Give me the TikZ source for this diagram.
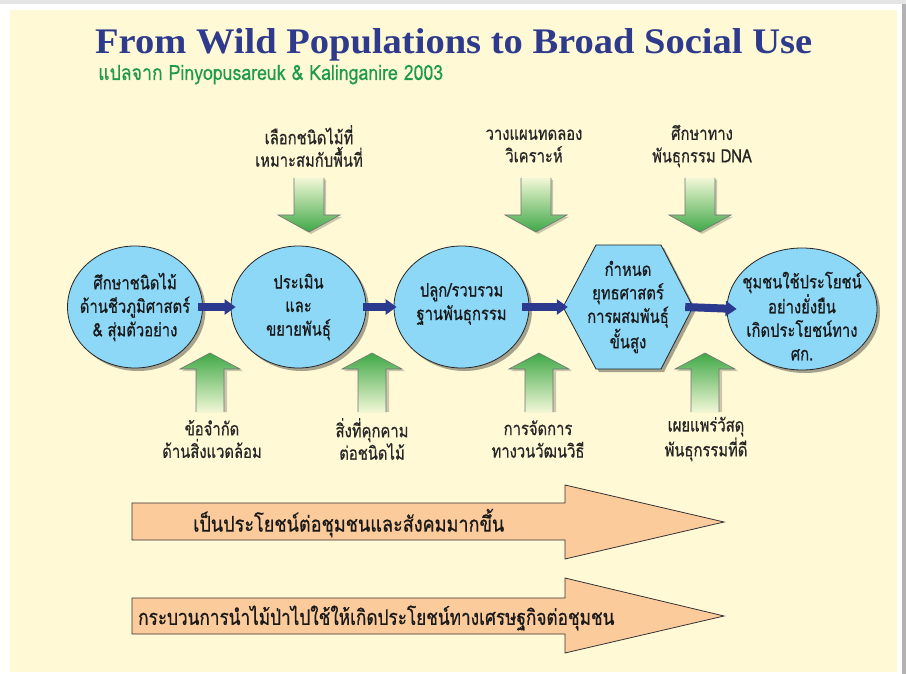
\documentclass[tikz,border=0pt]{standalone}
\usepackage{graphicx}
\usepackage{fontspec}
\setmainfont{Liberation Serif}
\newfontfamily\thai[Script=Thai,FakeStretch=0.8,FakeBold=0.6]{Loma}
\newfontfamily\thaisub[Script=Thai,FakeStretch=0.85,FakeBold=0.3]{Loma}
\usetikzlibrary{shapes.geometric,arrows.meta,shadows}
\definecolor{cream}{HTML}{FFF9D6}
\definecolor{titleblue}{HTML}{2E3A8C}
\definecolor{subgreen}{HTML}{1E9B48}
\definecolor{nodeblue}{HTML}{8DD7F7}
\definecolor{arrowblue}{HTML}{2B3A8F}
\definecolor{salmon}{HTML}{FCCB9C}
\definecolor{gdark}{HTML}{3FA847}
\definecolor{glight}{HTML}{F1F7D6}
\newcommand\ndfont{\thai\fontsize{18.5}{23.5}\selectfont}
\newcommand\lbfont{\thai\fontsize{18.5}{22.5}\selectfont}
\newcommand\bdfont{\thai\fontsize{21.5}{24}\selectfont}
\newcommand\gdown[1]{%
  \fill[black,opacity=0.2] ({#1-13},180) -- ({#1-13},217) -- ({#1-28},217) -- ({#1+2},234) -- ({#1+33},217) -- ({#1+17},217) -- ({#1+17},180) -- cycle;
  \shade[top color=glight, bottom color=gdark] ({#1-15},178) -- ({#1+15},178) -- ({#1+15},215) -- ({#1+31},215) -- (#1,232) -- ({#1-31},215) -- ({#1-15},215) -- cycle;
  \draw[gline] ({#1-15},178) -- ({#1-15},215) -- ({#1-31},215) -- (#1,232) -- ({#1+31},215) -- ({#1+15},215) -- ({#1+15},178);
}
\newcommand\gup[1]{%
  \fill[black,opacity=0.2] ({#1+2},355) -- ({#1+33},371) -- ({#1+17},371) -- ({#1+17},412) -- ({#1-13},412) -- ({#1-13},371) -- ({#1-28},371) -- cycle;
  \shade[top color=gdark, bottom color=glight] (#1,353) -- ({#1+30},369) -- ({#1+14},369) -- ({#1+14},412) -- ({#1-14},412) -- ({#1-14},369) -- ({#1-30},369) -- cycle;
  \draw[gline] ({#1+14},412) -- ({#1+14},369) -- ({#1+30},369) -- (#1,353) -- ({#1-30},369) -- ({#1-14},369) -- ({#1-14},412);
}
\begin{document}
\begin{tikzpicture}[x=1pt,y=-1pt,
  proc/.style={ellipse, draw=black!85, line width=0.8pt, fill=nodeblue,
    minimum width=135pt, minimum height=122pt, inner sep=0pt,
    drop shadow={shadow xshift=3pt, shadow yshift=-3pt, opacity=0.35, fill=black}},
  ntext/.style={align=center, font=\ndfont, inner sep=0pt, text=black!90},
  lab/.style={align=center, font=\lbfont, inner sep=0pt, text=black!85},
  flow/.style={draw=arrowblue, line width=8pt, -{Triangle[length=11pt, width=15pt]}},
  band/.style={fill=salmon, draw=black!80, line width=0.8pt},
  gline/.style={draw=black!55, line width=0.6pt}]
\useasboundingbox (0,0) rectangle (906,674);
\fill[white] (0,0) rectangle (906,674);
\fill[black!10] (0,0) rectangle (906,4);
\fill[black!30] (902,4) rectangle (906,674);
\fill[cream] (10,10) rectangle (897,672);
% title
\node[anchor=base west, inner sep=0pt, text=titleblue, font=\fontsize{36}{40}\selectfont\bfseries] (title) at (95,54)
  {\resizebox{717pt}{\height}{From Wild Populations to Broad Social Use}};
\node[anchor=base west, inner sep=0pt, text=subgreen, font=\thaisub\fontsize{21}{24}\selectfont] (sub) at (98,80)
  {\resizebox{345pt}{\height}{แปลจาก Pinyopusareuk \& Kalinganire 2003}};
% green arrows
\gdown{309}\gdown{536}\gdown{700}
\gup{210}\gup{372}\gup{539}\gup{705}
% process nodes
\node[proc] (n1) at (135,307) {};
\node[ntext] (n1t) at (n1) {ศึกษาชนิดไม้\\ด้านชีวภูมิศาสตร์\\\& สุ่มตัวอย่าง};
\node[proc] (n2) at (298.5,307) {};
\node[ntext] (n2t) at (n2) {ประเมิน\\และ\\ขยายพันธุ์};
\node[proc] (n3) at (461.5,307) {};
\node[ntext] (n3t) at (461.5,304) {ปลูก/รวบรวม\\ฐานพันธุกรรม};
\filldraw[fill=nodeblue, draw=black!85, line width=0.8pt,
  drop shadow={shadow xshift=3pt, shadow yshift=-3pt, opacity=0.35, fill=black}]
  (563,307) -- (596,245) -- (661,245) -- (693,307) -- (661,369) -- (596,369) -- cycle;
\node[minimum width=130pt, minimum height=124pt, inner sep=0pt] (n4) at (628,307) {};
\node[ntext] (n4t) at (n4) {กำหนด\\ยุทธศาสตร์\\การผสมพันธุ์\\ขั้นสูง};
\node[proc, minimum width=150pt, minimum height=122pt] (n5) at (802,309) {};
\node[ntext] (n5t) at (802,316) {ชุมชนใช้ประโยชน์\\อย่างยั่งยืน\\เกิดประโยชน์ทาง\\ศก.};
% flow arrows
\draw[flow] ([xshift=-5pt]n1.east) -- ([xshift=5pt]n2.west);
\draw[flow] ([xshift=-3pt]n2.east) -- ([xshift=3pt]n3.west);
\draw[flow] ([xshift=-7pt]n3.east) -- ([xshift=5pt]n4.west);
\draw[flow] ([xshift=-8pt]n4.east) -- ([xshift=10pt]n5.west);
% labels
\node[lab] (t1) at (309,146) {เลือกชนิดไม้ที่\\เหมาะสมกับพื้นที่};
\node[lab] (t2) at (534,146) {วางแผนทดลอง\\วิเคราะห์};
\node[lab] (t3) at (702,146) {ศึกษาทาง\\พันธุกรรม DNA};
\node[lab] (b1) at (212,439) {ข้อจำกัด\\ด้านสิ่งแวดล้อม};
\node[lab] (b2) at (372,439) {สิ่งที่คุกคาม\\ต่อชนิดไม้};
\node[lab] (b3) at (538,439) {การจัดการ\\ทางวนวัฒนวิธี};
\node[lab] (b4) at (706,439) {เผยแพร่วัสดุ\\พันธุกรรมที่ดี};
% salmon bands
\draw[band] (132,503) -- (565,503) -- (565,485) -- (724,522) -- (565,559) -- (565,540) -- (132,540) -- cycle;
\node[anchor=west, inner sep=0pt, font=\bdfont, text=black!90] (s1) at (193,523) {\resizebox{311pt}{\height}{เป็นประโยชน์ต่อชุมชนและสังคมมากขึ้น}};
\draw[band] (132,598) -- (565,598) -- (565,578) -- (724,616) -- (565,653) -- (565,634) -- (132,634) -- cycle;
\node[anchor=west, inner sep=0pt, font=\bdfont, text=black!90] (s2) at (138,618) {กระบวนการนำไม้ป่าไปใช้ให้เกิดประโยชน์ทางเศรษฐกิจต่อชุมชน};
\end{tikzpicture}
\end{document}
